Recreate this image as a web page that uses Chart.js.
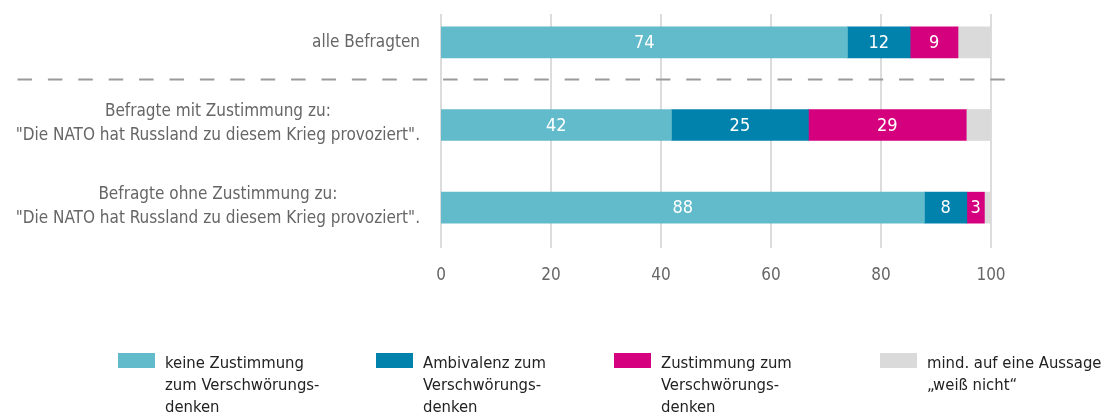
<!DOCTYPE html>
<html lang="de">
<head>
<meta charset="utf-8">
<title>Verschwörungsdenken</title>
<script src="https://cdn.jsdelivr.net/npm/chart.js@4"></script>
<style>
  body { margin: 0; background: #fff; }
  canvas { display: block; }
</style>
</head>
<body>
<canvas id="chart" width="1104" height="417"></canvas>
<script>
const categories = [
  ["alle Befragten"],
  ["Befragte mit Zustimmung zu:", "\"Die NATO hat Russland zu diesem Krieg provoziert\"."],
  ["Befragte ohne Zustimmung zu:", "\"Die NATO hat Russland zu diesem Krieg provoziert\"."]
];

// bar lengths as measured, printed numbers as shown
const keineZustimmung = [73.9, 41.9, 87.9];
const ambivalenz = [11.4, 24.9, 7.7];
const zustimmung = [8.7, 28.7, 3.2];
const weissNicht = [6.0, 4.5, 1.2];

const keineZustimmungText = ["74", "42", "88"];
const ambivalenzText = ["12", "25", "8"];
const zustimmungText = ["9", "29", "3"];

const seriesNames = [
  ["keine Zustimmung", "zum Verschwörungs-", "denken"],
  ["Ambivalenz zum", "Verschwörungs-", "denken"],
  ["Zustimmung zum", "Verschwörungs-", "denken"],
  ["mind. auf eine Aussage", "„weiß nicht“"]
];

const xTicks = [0, 20, 40, 60, 80, 100];

const FONT = "'DejaVu Sans Condensed', 'DejaVu Sans', sans-serif";
const colors = ["#62bbca", "#0082ad", "#d5007e", "#dadada"];
const valueTexts = [keineZustimmungText, ambivalenzText, zustimmungText, null];
const legendX = [118, 376, 614, 880];

const gridPlugin = {
  id: "grid",
  beforeDatasetsDraw(chart) {
    const { ctx, scales: { x } } = chart;
    ctx.save();
    ctx.strokeStyle = "#dcdcdc";
    ctx.lineWidth = 2;
    xTicks.forEach((v) => {
      const px = x.getPixelForValue(v);
      ctx.beginPath();
      ctx.moveTo(px, 14);
      ctx.lineTo(px, 248);
      ctx.stroke();
    });
    ctx.restore();
  },
};

const labelsPlugin = {
  id: "labels",
  afterDraw(chart) {
    const { ctx, chartArea, scales: { y } } = chart;
    ctx.save();

    // separator between "alle Befragten" and the groups
    const sepY = Math.round(y.getPixelForValue(0.44)) + 0.5;
    ctx.strokeStyle = "#9a9a9a";
    ctx.lineWidth = 2;
    ctx.setLineDash([14.5, 15.9]);
    ctx.beginPath();
    ctx.moveTo(17.5, sepY);
    ctx.lineTo(1007, sepY);
    ctx.stroke();
    ctx.setLineDash([]);

    // category labels, lines centred on each other, block right-aligned
    ctx.font = "17px " + FONT;
    ctx.fillStyle = "#666";
    ctx.textBaseline = "middle";
    ctx.textAlign = "center";
    const right = chartArea.left - 21;
    categories.forEach((lines, i) => {
      const maxW = Math.max(...lines.map((l) => ctx.measureText(l).width));
      const cy = y.getPixelForValue(i) - (lines.length - 1) * 1.5;
      lines.forEach((l, j) => {
        ctx.fillText(l, right - maxW / 2, cy + (j - (lines.length - 1) / 2) * 24);
      });
    });

    // values inside the bars
    ctx.font = "18px " + FONT;
    ctx.fillStyle = "#fff";
    chart.data.datasets.forEach((ds, d) => {
      if (!valueTexts[d]) return;
      chart.getDatasetMeta(d).data.forEach((el, i) => {
        const p = el.getCenterPoint();
        ctx.fillText(valueTexts[d][i], p.x, p.y + 1);
      });
    });

    // legend
    ctx.font = "16.5px " + FONT;
    ctx.textAlign = "left";
    ctx.textBaseline = "alphabetic";
    seriesNames.forEach((lines, k) => {
      ctx.fillStyle = colors[k];
      ctx.fillRect(legendX[k], 353, 37, 15);
      ctx.fillStyle = "#222";
      lines.forEach((l, j) => {
        ctx.fillText(l, legendX[k] + 47, 368 + j * 22);
      });
    });
    ctx.restore();
  },
};

const series = [keineZustimmung, ambivalenz, zustimmung, weissNicht];

new Chart(document.getElementById("chart"), {
  type: "bar",
  data: {
    labels: categories.map((c) => c.join(" ")),
    datasets: series.map((values, k) => ({
      label: seriesNames[k].join(" "),
      data: values,
      backgroundColor: colors[k],
      borderWidth: 0,
      barThickness: 31,
    })),
  },
  options: {
    indexAxis: "y",
    responsive: false,
    animation: false,
    devicePixelRatio: 1,
    layout: { padding: { top: 1, right: 113, left: 0, bottom: 0 } },
    plugins: { legend: { display: false }, tooltip: { enabled: false } },
    scales: {
      x: {
        stacked: true,
        min: 0,
        max: 100,
        afterBuildTicks: (s) => { s.ticks = xTicks.map((v) => ({ value: v })); },
        ticks: { font: { family: FONT, size: 17 }, color: "#666", padding: 16 },
        grid: { display: false, drawTicks: false },
        border: { display: false },
        afterFit: (s) => { s.height = 168; },
      },
      y: {
        stacked: true,
        ticks: { display: false },
        grid: { display: false },
        border: { display: false },
        afterFit: (s) => { s.width = 441; },
      },
    },
  },
  plugins: [gridPlugin, labelsPlugin],
});
</script>
</body>
</html>
